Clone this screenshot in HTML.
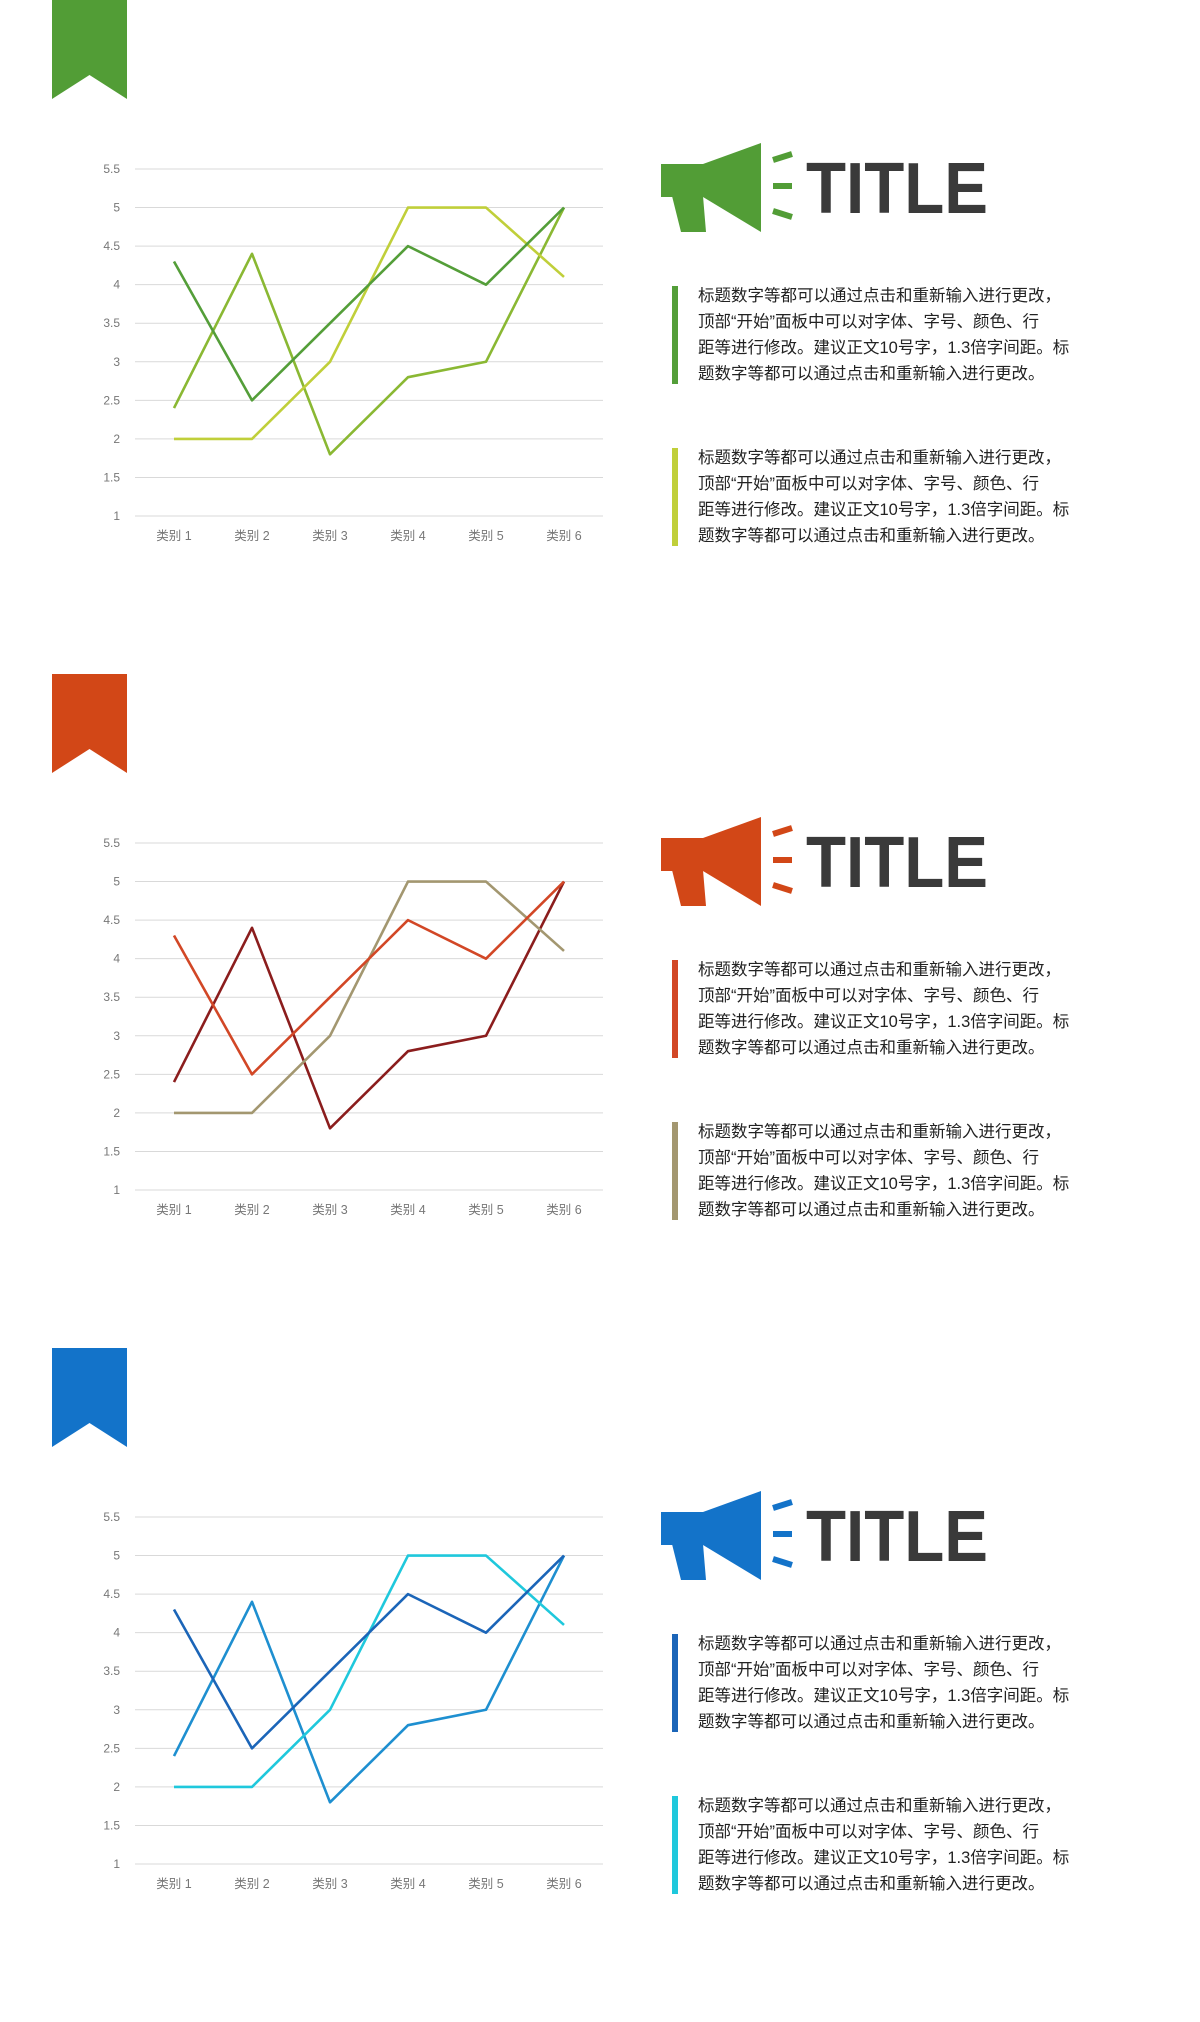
<!DOCTYPE html>
<html><head><meta charset="utf-8">
<style>
body{margin:0;width:1200px;height:2022px;background:#fff;position:relative;overflow:hidden;font-family:"Liberation Sans","Noto Sans CJK SC",sans-serif}
svg{position:absolute;left:0;top:0}
.txt{position:absolute;left:698px;width:390px;font-size:16.5px;line-height:26px;color:#222;white-space:nowrap}
.bar{position:absolute;left:672px;width:6px}
</style></head><body>
<svg id="s" width="1200" height="2022"></svg>
<div id="root"></div>
<script>
const categories=["类别 1","类别 2","类别 3","类别 4","类别 5","类别 6"];
const seriesA=[4.3,2.5,3.5,4.5,4,5];
const seriesB=[2.4,4.4,1.8,2.8,3,5];
const seriesC=[2,2,3,5,5,4.1];
const yTicks=[1,1.5,2,2.5,3,3.5,4,4.5,5,5.5];
const panelColors=[["#529d36","#549e39","#8ab833","#c0cf3a"],["#d24717","#d24726","#8b1d1d","#a39770"],["#1373c9","#1b65b8","#1e8fd0","#1fc8dc"]];
const offsets=[0,674,1348];
const para="标题数字等都可以通过点击和重新输入进行更改，<br>顶部“开始”面板中可以对字体、字号、颜色、行<br>距等进行修改。建议正文10号字，1.3倍字间距。标<br>题数字等都可以通过点击和重新输入进行更改。";
const NS="http://www.w3.org/2000/svg";
const svg=document.getElementById('s');
function el(t,a,p){const e=document.createElementNS(NS,t);for(const k in a)e.setAttribute(k,a[k]);(p||svg).appendChild(e);return e;}
const x0=135,x1=603;
function xs(i){return 174+i*78;}
function ys(v,o){return o+516-(v-1)/4.5*347;}
panelColors.forEach((c,pi)=>{
  const o=offsets[pi];
  const g=el('g',{});
  
  
  const bm=el('polygon',{points:`52,${o} 127,${o} 127,${o+99} 89.5,${o+75} 52,${o+99}`,fill:c[0]},g);
  
  
  yTicks.forEach(t=>{
    const y=ys(t,o);
    const ln=el('line',{x1:x0,x2:x1,y1:y,y2:y,stroke:'#d9d9d9','stroke-width':1},g);
    
    
    const tx=el('text',{x:120,y:y+4,'text-anchor':'end','font-size':12,fill:'#777'},g);
    tx.textContent=t;
    
    
  });
  categories.forEach((cat,i)=>{
    const tx=el('text',{x:xs(i),y:o+540,'text-anchor':'middle','font-size':12.5,fill:'#777','font-family':'"Liberation Sans","Noto Sans CJK SC",sans-serif'},g);
    tx.textContent=cat;
    
    
  });
  [[seriesB,c[2]],[seriesC,c[3]],[seriesA,c[1]]].forEach(([d,col],si)=>{
    const pl=el('polyline',{points:d.map((v,i)=>xs(i)+','+ys(v,o)).join(' '),fill:'none',stroke:col,'stroke-width':2.6,'stroke-linejoin':'round'},g);
    
    
  });
  const mg=el('g',{fill:c[0]},g);
  
  
  el('rect',{x:661,y:o+164,width:46,height:33},mg);
  el('polygon',{points:`703,${o+164} 761,${o+143} 761,${o+232} 703,${o+197}`},mg);
  el('polygon',{points:`672,${o+196} 703,${o+196} 706,${o+232} 681,${o+232}`},mg);
  el('line',{x1:773,y1:o+160,x2:792,y2:o+154,stroke:c[0],'stroke-width':6},mg);
  el('line',{x1:773,y1:o+186,x2:792,y2:o+186,stroke:c[0],'stroke-width':6},mg);
  el('line',{x1:773,y1:o+211,x2:792,y2:o+217,stroke:c[0],'stroke-width':6},mg);
  const tt=el('text',{x:806,y:o+213,'font-size':72,'font-weight':'bold',fill:'#3a3a3a','textLength':182,'lengthAdjust':'spacingAndGlyphs'},g);
  tt.textContent='TITLE';
  
  
  const root=document.getElementById('root');
  [[286,c[1]],[448,c[3]]].forEach(([t,col],bi)=>{
    const b=document.createElement('div');b.className='bar';
    b.style.top=(o+t)+'px';b.style.height='98px';b.style.background=col;
    
    
    root.appendChild(b);
    const p=document.createElement('div');p.className='txt';
    p.style.top=(o+t-3)+'px';p.innerHTML=para;
    
    
    root.appendChild(p);
  });
});
</script>
</body></html>
